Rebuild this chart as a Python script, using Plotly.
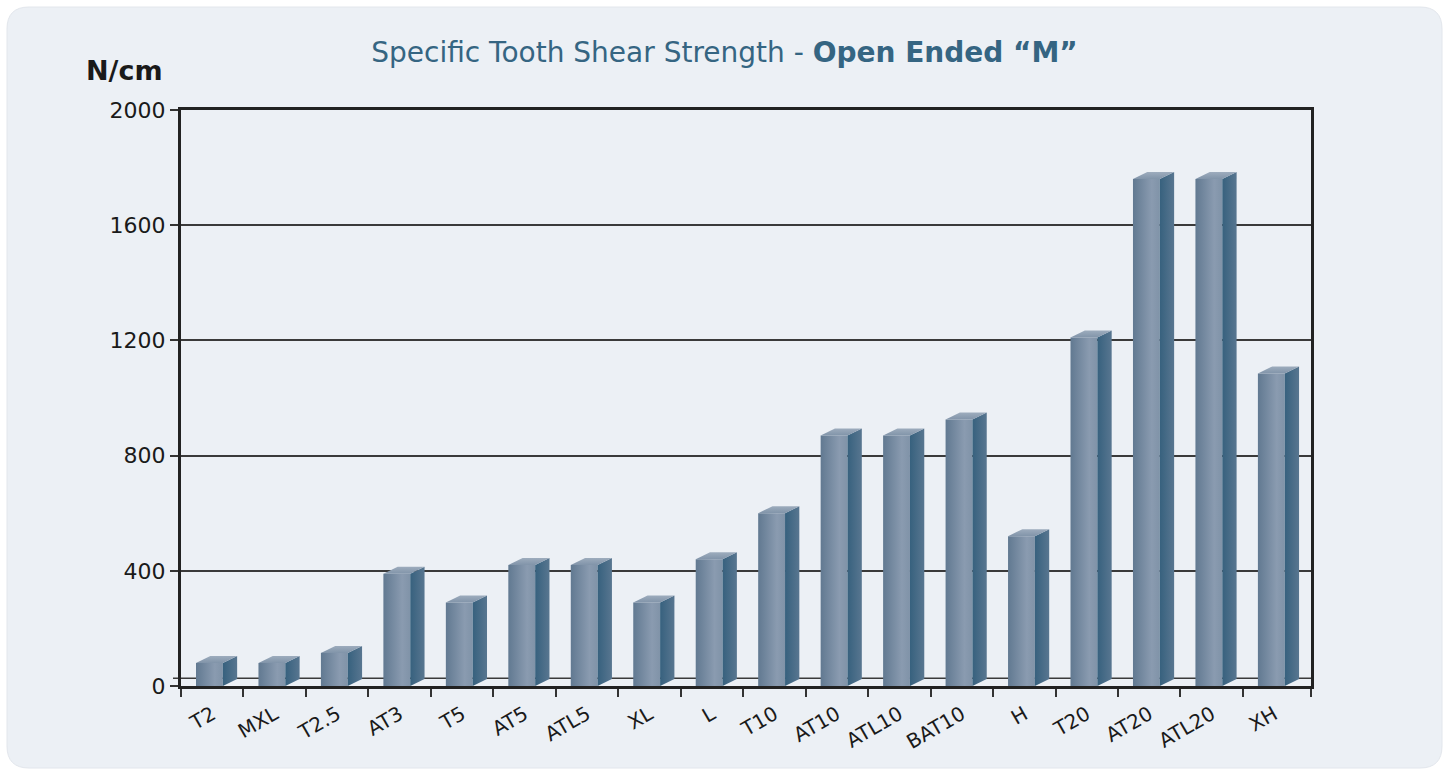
import plotly.graph_objects as go

# ---- data ----
categories = ["T2", "MXL", "T2.5", "AT3", "T5", "AT5", "ATL5", "XL", "L", "T10",
              "AT10", "ATL10", "BAT10", "H", "T20", "AT20", "ATL20", "XH"]
strength = [80, 80, 115, 390, 290, 420, 420, 290, 440, 600,
            870, 870, 925, 520, 1210, 1760, 1760, 1085]
y_ticks = [0, 400, 800, 1200, 1600, 2000]

# ---- geometry / style ----
W, H = 1449, 771
ML, MR, MT, MB = 181, 138, 110, 85
PW, PH = W - ML - MR, H - MT - MB
X_MIN, X_MAX = -0.5, 17.59
Y_MIN, Y_MAX = 0, 2000
ux = PW / (X_MAX - X_MIN)      # px per category unit
uy = PH / (Y_MAX - Y_MIN)      # px per value unit
FRONT_L, FRONT_R = -0.26, 0.17  # front face extent relative to category centre
DX = 14.3 / ux                  # depth offset (x)
DY = 7.0 / uy                   # depth offset (y)

FONT = "DejaVu Sans"
TITLE_COLOR = "#356582"
BG = "#ecf0f5"

fig = go.Figure()

for i, v in enumerate(strength):
    xl, xr = i + FRONT_L, i + FRONT_R
    # front face
    fig.add_trace(go.Scatter(
        x=[xl, xr, xr, xl, xl], y=[0, 0, v, v, 0], fill="toself", mode="none",
        fillgradient=dict(type="horizontal",
                          colorscale=[[0, "#617991"], [0.7, "#8a9bb0"], [1, "#8093a8"]]),
        hoverinfo="skip", showlegend=False))
    # side face
    fig.add_trace(go.Scatter(
        x=[xr, xr + DX, xr + DX, xr, xr], y=[0, DY, v + DY, v, 0], fill="toself", mode="none",
        fillgradient=dict(type="horizontal",
                          colorscale=[[0, "#37617e"], [1, "#587690"]]),
        hoverinfo="skip", showlegend=False))
    # top face
    fig.add_trace(go.Scatter(
        x=[xl, xr, xr + DX, xl + DX, xl], y=[v, v, v + DY, v + DY, v], fill="toself", mode="none",
        fillgradient=dict(type="vertical",
                          colorscale=[[0, "#8194a9"], [1, "#9dacbd"]]),
        hoverinfo="skip", showlegend=False))

# ---- panel (rounded rect) ----
def px_to_paper_x(px):
    return (px - ML) / PW

def px_to_paper_y(py):
    return (H - MB - py) / PH

x0, x1 = px_to_paper_x(7), px_to_paper_x(W - 7)
y0, y1 = px_to_paper_y(H - 3), px_to_paper_y(7)
rx, ry = 22 / PW, 22 / PH
panel_path = (f"M {x0+rx},{y0} L {x1-rx},{y0} Q {x1},{y0} {x1},{y0+ry} "
              f"L {x1},{y1-ry} Q {x1},{y1} {x1-rx},{y1} L {x0+rx},{y1} "
              f"Q {x0},{y1} {x0},{y1-ry} L {x0},{y0+ry} Q {x0},{y0} {x0+rx},{y0} Z")

shapes = [
    dict(type="path", path=panel_path, xref="paper", yref="paper",
         fillcolor=BG, line=dict(color="#e2e6ec", width=1), layer="below"),
    # back floor line of the 3D frame
    dict(type="line", xref="paper", yref="y", x0=px_to_paper_x(ML - 8), x1=1,
         y0=DY + 3, y1=DY + 3, line=dict(color="#3a3a3a", width=1.5), layer="below"),
]

boundaries = [i - 0.5 for i in range(len(categories))] + [X_MAX]

fig.update_layout(
    width=W, height=H,
    margin=dict(l=ML, r=MR, t=MT, b=MB),
    paper_bgcolor="white", plot_bgcolor="rgba(0,0,0,0)",
    shapes=shapes,
    title=dict(
        text="Specific Tooth Shear Strength - <b>Open Ended “M”</b>",
        x=0.5, xanchor="center", y=1 - 52 / H, yanchor="middle",
        font=dict(family=FONT, size=28, color=TITLE_COLOR)),
    annotations=[dict(text="<b>N/cm</b>", xref="paper", yref="paper",
                      x=px_to_paper_x(165), y=px_to_paper_y(70),
                      xanchor="right", yanchor="middle", showarrow=False,
                      font=dict(family=FONT, size=27, color="#1a1a1a"))],
    xaxis=dict(range=[X_MIN, X_MAX], tickmode="array",
               tickvals=list(range(len(categories))), ticktext=categories,
               tickangle=-30, ticks="outside", ticklen=6, tickcolor="rgba(0,0,0,0)",
               tickfont=dict(family=FONT, size=20, color="#1a1a1a"),
               showgrid=False, zeroline=False,
               showline=True, linecolor="#222", linewidth=3, mirror=True,
               minor=dict(tickmode="array", tickvals=boundaries, ticks="outside",
                          ticklen=8, tickcolor="#333", tickwidth=1.5, showgrid=False)),
    yaxis=dict(range=[Y_MIN, Y_MAX], tickmode="array", tickvals=y_ticks,
               ticks="outside", ticklen=8, tickcolor="#333", tickwidth=1.5,
               tickfont=dict(family=FONT, size=22, color="#1a1a1a"),
               showgrid=True, gridcolor="#3a3a3a", gridwidth=1.5, zeroline=False,
               showline=True, linecolor="#222", linewidth=3, mirror=True),
)

fig.write_html("out.html", config={"displayModeBar": False},
               post_script="document.body.style.margin='0';document.body.style.overflow='hidden';")
